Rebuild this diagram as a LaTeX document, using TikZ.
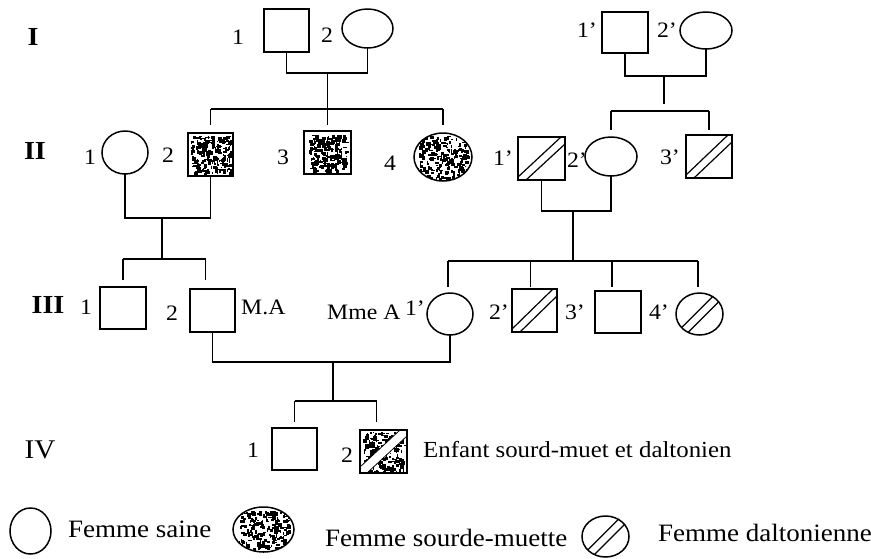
\documentclass[tikz,border=0pt]{standalone}
\usepackage{fontspec}
\setmainfont[FakeStretch=1.08]{Liberation Serif}
\usetikzlibrary{shapes.geometric,calc}
\pgfdeclarelayer{bg}
\pgfsetlayers{bg,main}
\newcommand\noisefill[4]{%
  \foreach \k in {1,...,#4}{%
    \pgfmathsetmacro\nx{rand*#2}%
    \pgfmathsetmacro\ny{rand*#3}%
    \pgfmathsetmacro\nw{0.8+rnd*3.6}%
    \pgfmathsetmacro\nh{0.8+rnd*3.6}%
    \fill ($(#1)+(\nx,\ny)$) rectangle ++(\nw,\nh);}}
\newcommand\sqhatch[1]{%
  \draw[hatch] ($(#1.south west)+(0,-3)$) -- ($(#1.north east)+(-4,0)$);
  \draw[hatch] ($(#1.south west)+(8,0)$) -- ($(#1.north east)+(0,7)$);}
\newcommand\elhatch[3]{%
  \begin{scope}
    \clip (#1.center) ellipse [x radius=#2pt, y radius=#3pt];
    \draw[hatch] ($(#1.center)+(-32.1,27.9)$) -- ($(#1.center)+(27.9,-32.1)$);
    \draw[hatch] ($(#1.center)+(-26.5,33.5)$) -- ($(#1.center)+(33.5,-26.5)$);
  \end{scope}}
\begin{document}
\begin{tikzpicture}[x=1pt,y=-1pt,
  sym/.style={draw, line width=1.5pt, inner sep=0pt, outer sep=0pt},
  msq/.style n args={2}{sym, rectangle, minimum width=#1pt, minimum height=#2pt},
  fem/.style n args={2}{sym, ellipse, minimum width=#1pt, minimum height=#2pt},
  conn/.style={line width=1.6pt},
  hatch/.style={line width=1.2pt},
  num/.style={inner sep=0pt, font=\fontsize{22}{24}\selectfont},
  gen/.style={inner sep=0pt, font=\fontsize{26}{28}\selectfont\bfseries},
  txt/.style={inner sep=0pt, anchor=west, font=\fontsize{22}{24}\selectfont},
  leg/.style={inner sep=0pt, anchor=west, font=\fontsize{25}{27}\selectfont},
]
\useasboundingbox (0,0) rectangle (871,558);
\pgfmathsetseed{11}

% ---------- symbols ----------
\node[msq={45}{43}] (I1) at (286.5,30.5) {};
\node[fem={51}{39}] (I2) at (367.5,28.5) {};
\node[msq={46}{41}] (I1p) at (625,32.5) {};
\node[fem={52}{37}] (I2p) at (706,30.5) {};

\node[fem={46}{43}] (II1) at (125,152.5) {};
\node[msq={45}{43}] (II2) at (210.5,154.5) {};
\node[msq={47}{43}] (II3) at (327.5,152.5) {};
\node[fem={58}{48}] (II4) at (443,157) {};
\node[msq={47}{43}] (II1p) at (541.5,158.5) {};
\node[fem={52}{39}] (II2p) at (611,156.5) {};
\node[msq={46}{43}] (II3p) at (709,156.5) {};

\node[msq={46}{42}] (III1) at (123,308) {};
\node[msq={45}{43}] (III2) at (212.5,310.5) {};
\node[fem={46}{42}] (III1p) at (450,314) {};
\node[msq={45}{43}] (III2p) at (534.5,310.5) {};
\node[msq={46}{42}] (III3p) at (618,312) {};
\node[fem={47}{42}] (III4p) at (699.5,314) {};

\node[msq={45}{42}] (IV1) at (294.5,449) {};
\node[msq={47}{43}] (IV2) at (383.5,451.5) {};

\node[fem={41}{46}] (L1) at (30.5,531) {};
\node[fem={61}{45}] (L2) at (263.5,529.5) {};
\node[fem={47}{41}] (L3) at (605.5,536.5) {};

% ---------- fillings ----------
\begin{pgfonlayer}{bg}
  \begin{scope}
    \clip (II2.south west) rectangle (II2.north east);
    \noisefill{II2.center}{20}{19}{210}
  \end{scope}
  \begin{scope}
    \clip (II3.south west) rectangle (II3.north east);
    \noisefill{II3.center}{19}{18}{200}
  \end{scope}
  \begin{scope}
    \clip (II4.center) ellipse [x radius=29pt, y radius=24pt];
    \noisefill{II4.center}{25}{21}{230}
  \end{scope}
  \begin{scope}
    \clip (L2.center) ellipse [x radius=30.5pt, y radius=22.5pt];
    \noisefill{L2.center}{25}{19}{200}
  \end{scope}
  \begin{scope}
    \clip (IV2.south west) rectangle (IV2.north east);
    \noisefill{IV2.center}{21}{20}{220}
    \fill[white] (IV2.south west) -- ($(IV2.south west)+(0,-6)$) -- ($(IV2.north east)+(-7,0)$)
      -- (IV2.north east) -- ($(IV2.north east)+(0,6)$) -- ($(IV2.south west)+(7,0)$) -- cycle;
    \draw[line width=0.8pt] ($(IV2.south west)+(0,-6)$) -- ($(IV2.north east)+(-7,0)$);
    \draw[line width=0.8pt] ($(IV2.south west)+(7,0)$) -- ($(IV2.north east)+(0,6)$);
  \end{scope}
  \sqhatch{II1p}
  \sqhatch{II3p}
  \sqhatch{III2p}
  \elhatch{III4p}{23.5}{21}
  \elhatch{L3}{23.5}{20.5}
\end{pgfonlayer}

% ---------- connectors ----------
\coordinate (m1) at (327.5,73);
\coordinate (s1) at (327.5,109);
\draw[conn] (I1.south) |- (m1) -| (I2.south);
\draw[conn] (m1) -- ([yshift=6pt]II3.north);
\draw[conn] (II2.north |- s1) -- (II4.north |- s1);
\draw[conn] (II2.north |- s1) -- ([yshift=8pt]II2.north);
\draw[conn] (II4.north |- s1) -- ([yshift=8pt]II4.north);

\coordinate (m2) at (664,76);
\coordinate (d2) at (664,104);
\coordinate (s2) at (664,111);
\draw[conn] (I1p.south) |- (m2) -| (I2p.south);
\draw[conn] (m2) -- (d2);
\draw[conn] (II2p.north |- s2) -- (II3p.north |- s2);
\draw[conn] (II2p.north |- s2) -- ([yshift=7pt]II2p.north);
\draw[conn] (II3p.north |- s2) -- ([yshift=5pt]II3p.north);

\coordinate (m3) at (162,218);
\coordinate (s3) at (162,259);
\draw[conn] (II1.south) |- (m3) -| (II2.south);
\draw[conn] (m3) -- (s3);
\draw[conn] (III1.north |- s3) -- ($(III2.north |- s3)+(-7,0)$);
\draw[conn] (III1.north |- s3) -- ([yshift=7pt]III1.north);
\draw[conn] ($(III2.north |- s3)+(-7,0)$) -- ($(III2.north)+(-7,-9)$);

\coordinate (m4) at (573,211);
\coordinate (s4) at (573,261);
\draw[conn] (II1p.south) |- (m4) -| (II2p.south);
\draw[conn] (m4) -- (s4);
\draw[conn] ($(III1p.north |- s4)+(-2,0)$) -- ($(III4p.north |- s4)+(-1.5,0)$);
\draw[conn] ($(III1p.north |- s4)+(-2,0)$) -- ($(III1p.north)+(-2,-6)$);
\draw[conn] ($(III2p.north |- s4)+(-4,0)$) -- ($(III2p.north)+(-4,-2)$);
\draw[conn] ($(III3p.north |- s4)+(-6,0)$) -- ($(III3p.north)+(-6,-4)$);
\draw[conn] ($(III4p.north |- s4)+(-1.5,0)$) -- ($(III4p.north)+(-1.5,-6)$);

\coordinate (m5) at (333,362);
\coordinate (s5) at (333,401);
\draw[conn] (III2.south) |- (m5) -| (III1p.south);
\draw[conn] (m5) -- (s5);
\draw[conn] (IV1.north |- s5) -- ($(IV2.north |- s5)+(-7,0)$);
\draw[conn] (IV1.north |- s5) -- ([yshift=6pt]IV1.north);
\draw[conn] ($(IV2.north |- s5)+(-7,0)$) -- ($(IV2.north)+(-7,-8)$);

% ---------- texts ----------
\node[gen] (gI) at (33,37) {I};
\node[gen] (gII) at (35,151) {II};
\node[gen] (gIII) at (48,305) {III};
\node[inner sep=0pt, font=\fontsize{27}{29}\selectfont] (gIV) at (40,450) {IV};

\node[num] (nI1) at (238,37) {1};
\node[num] (nI2) at (327,35) {2};
\node[num] (nI1p) at (587,30) {1'};
\node[num] (nI2p) at (667,30) {2'};

\node[num] (nII1) at (90,157) {1};
\node[num] (nII2) at (168,155) {2};
\node[num] (nII3) at (283,157) {3};
\node[num] (nII4) at (390,163) {4};
\node[num] (nII1p) at (503,158) {1'};
\node[num] (nII2p) at (577,160) {2'};
\node[num] (nII3p) at (670,157) {3'};

\node[num] (nIII1) at (86,307) {1};
\node[num] (nIII2) at (172,313) {2};
\node[txt] (tMA) at (241,307) {M.A};
\node[txt] (tMmeA) at (327,312) {Mme A};
\node[num] (nIII1p) at (415,308) {1'};
\node[num] (nIII2p) at (499,312) {2'};
\node[num] (nIII3p) at (575,312) {3'};
\node[num] (nIII4p) at (659,312) {4'};

\node[num] (nIV1) at (253,450) {1};
\node[num] (nIV2) at (347,455) {2};
\node[txt, font=\fontsize{23}{25}\selectfont] (cap) at (423,450) {Enfant sourd-muet et daltonien};

\node[leg] (leg1) at (68,529) {Femme saine};
\node[leg] (leg2) at (325,538) {Femme sourde-muette};
\node[leg] (leg3) at (658,533) {Femme daltonienne};
\end{tikzpicture}
\end{document}
